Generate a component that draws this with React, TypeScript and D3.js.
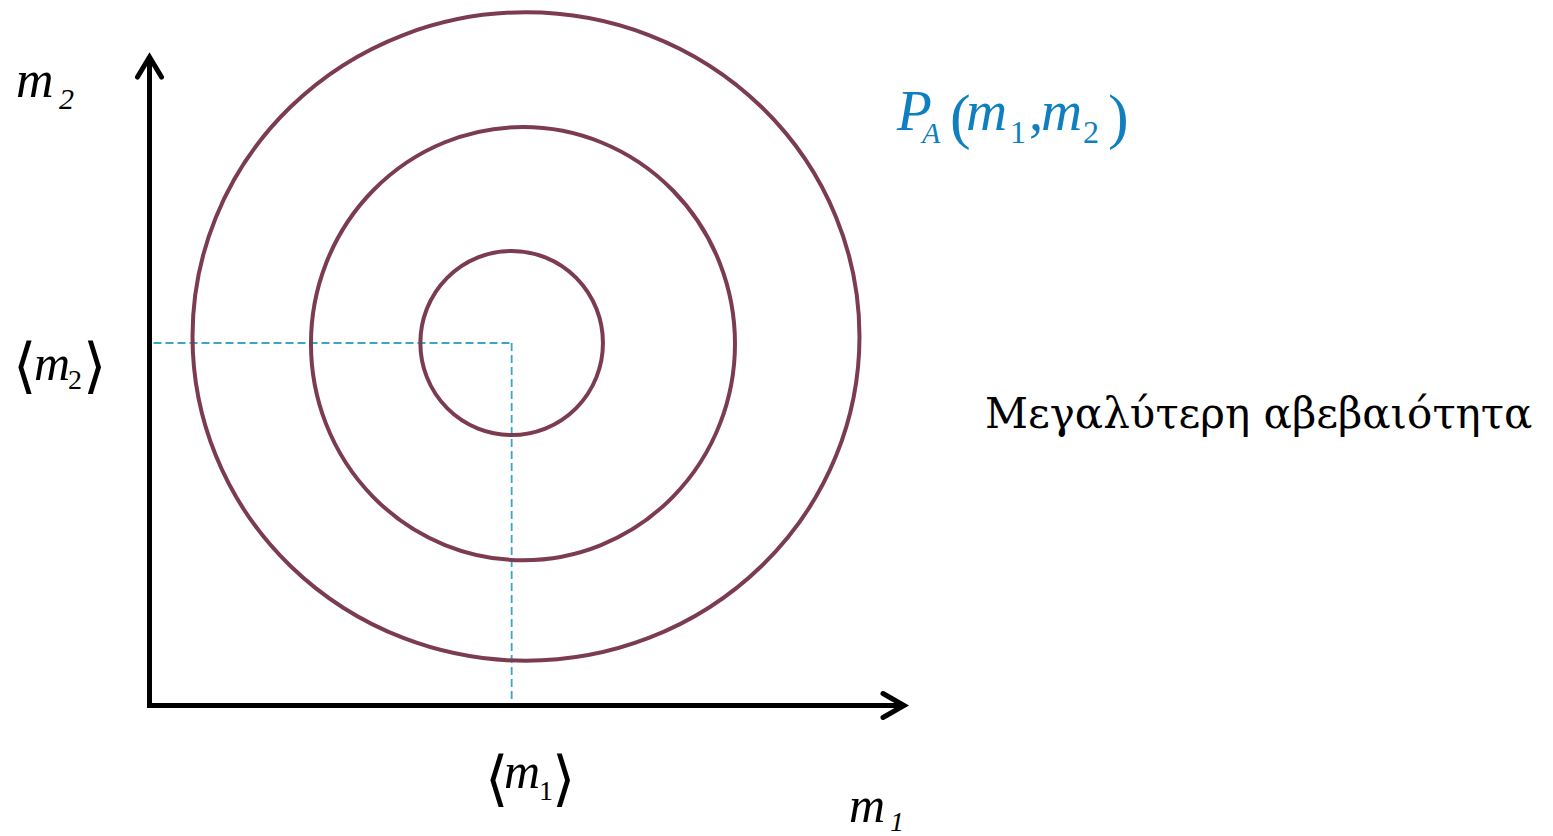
import React from "react";
import * as d3 from "d3";

// Canvas
const W = 1553;
const H = 836;

// Axis domain (arbitrary units for m1 and m2)
const m1Domain = [0, 10];
const m2Domain = [0, 10];

// Probability contours of P_A(m1, m2): outer, middle, inner
const contourNames = ["outer", "middle", "inner"];
const contourCx = [4.99, 4.95, 4.8];
const contourCy = [5.69, 5.58, 5.59];
const contourRx = [4.42, 2.81, 1.21];
const contourRy = [5.0, 3.34, 1.42];

// Mean values <m1>, <m2>
const meanM1 = 4.8;
const meanM2 = 5.59;

const CONTOUR = "#7b3c50";
const DASH = "#3aa6c6";
const BLUE = "#0f7fbf";
const SERIF = "'Liberation Serif', 'DejaVu Serif', serif";
const BRACKET = "'DejaVu Serif', 'Liberation Serif', serif";
const TEXT_SERIF = "'DejaVu Serif', serif";

export default function App() {
  const x = d3.scaleLinear().domain(m1Domain).range([149.5, 904]);
  const y = d3.scaleLinear().domain(m2Domain).range([705.5, 57]);

  const x0 = x(m1Domain[0]);
  const y0 = y(m2Domain[0]);
  const xEnd = x(m1Domain[1]);
  const yEnd = y(m2Domain[1]);

  const line = d3.line<[number, number]>();

  const contours = contourNames.map((name, i) => ({
    name,
    cx: x(contourCx[i]),
    cy: y(contourCy[i]),
    rx: x(contourRx[i]) - x(0),
    ry: y(0) - y(contourRy[i]),
  }));

  const mx = x(meanM1);
  const my = y(meanM2);

  return (
    <svg
      width={W}
      height={H}
      viewBox={`0 0 ${W} ${H}`}
      style={{ position: "fixed", left: 0, top: 0, background: "#fff" }}
    >
      <rect width={W} height={H} fill="#fff" />

      {/* guide lines to the mean */}
      <path
        d={line([[x0 + 4, my], [mx, my]]) ?? ""}
        stroke={DASH}
        strokeWidth={1.8}
        strokeDasharray="8 4"
        fill="none"
      />
      <path
        d={line([[mx, my], [mx, y0 - 4]]) ?? ""}
        stroke={DASH}
        strokeWidth={1.8}
        strokeDasharray="8 4"
        fill="none"
      />

      {/* contour ellipses */}
      {contours.map((c) => (
        <ellipse
          key={c.name}
          cx={c.cx}
          cy={c.cy}
          rx={c.rx}
          ry={c.ry}
          fill="none"
          stroke={CONTOUR}
          strokeWidth={4}
        />
      ))}

      {/* axes */}
      <path
        d={line([[x0, yEnd + 2], [x0, y0], [xEnd - 2, y0]]) ?? ""}
        stroke="#000"
        strokeWidth={5}
        fill="none"
        strokeLinejoin="miter"
      />
      <path
        d={line([[x0 - 12, yEnd + 20], [x0, yEnd], [x0 + 12, yEnd + 20]]) ?? ""}
        stroke="#000"
        strokeWidth={5}
        fill="none"
        strokeLinecap="round"
        strokeLinejoin="miter"
      />
      <path
        d={line([[xEnd - 21, y0 - 12], [xEnd, y0], [xEnd - 21, y0 + 12]]) ?? ""}
        stroke="#000"
        strokeWidth={5}
        fill="none"
        strokeLinecap="round"
        strokeLinejoin="miter"
      />

      {/* axis titles */}
      <text fontFamily={SERIF} fontStyle="italic" fill="#000">
        <tspan x={16} y={97} fontSize={52}>m</tspan>
        <tspan x={59} y={109} fontSize={30}>2</tspan>
      </text>
      <text fontFamily={SERIF} fontStyle="italic" fill="#000">
        <tspan x={849} y={822} fontSize={50}>m</tspan>
        <tspan x={890} y={831} fontSize={28}>1</tspan>
      </text>

      {/* mean labels */}
      <text fill="#000">
        <tspan x={13} y={386} fontFamily={BRACKET} fontSize={60} fontWeight={200}>⟨</tspan>
        <tspan x={34} y={380} fontFamily={SERIF} fontStyle="italic" fontSize={50}>m</tspan>
        <tspan x={68} y={389} fontFamily={SERIF} fontSize={28}>2</tspan>
        <tspan x={83} y={386} fontFamily={BRACKET} fontSize={60} fontWeight={200}>⟩</tspan>
      </text>
      <text fill="#000">
        <tspan x={485} y={799} fontFamily={BRACKET} fontSize={60} fontWeight={200}>⟨</tspan>
        <tspan x={504} y={788} fontFamily={SERIF} fontStyle="italic" fontSize={50}>m</tspan>
        <tspan x={539} y={800} fontFamily={SERIF} fontSize={28}>1</tspan>
        <tspan x={552} y={799} fontFamily={BRACKET} fontSize={60} fontWeight={200}>⟩</tspan>
      </text>

      {/* distribution label */}
      <text fill={BLUE} fontFamily={SERIF}>
        <tspan x={897} y={130} fontStyle="italic" fontSize={57}>P</tspan>
        <tspan x={922} y={143} fontStyle="italic" fontSize={30}>A</tspan>
        <tspan x={950} y={137} fontSize={62}>(</tspan>
        <tspan x={966} y={130} fontStyle="italic" fontSize={57}>m</tspan>
        <tspan x={1010} y={143} fontSize={32}>1</tspan>
        <tspan x={1029} y={130} fontSize={57}>,</tspan>
        <tspan x={1041} y={130} fontStyle="italic" fontSize={57}>m</tspan>
        <tspan x={1083} y={143} fontSize={32}>2</tspan>
        <tspan x={1108} y={137} fontSize={62}>)</tspan>
      </text>

      <text x={985} y={428} fontFamily={TEXT_SERIF} fontSize={42} fill="#000">
        Μεγαλύτερη αβεβαιότητα
      </text>
    </svg>
  );
}
